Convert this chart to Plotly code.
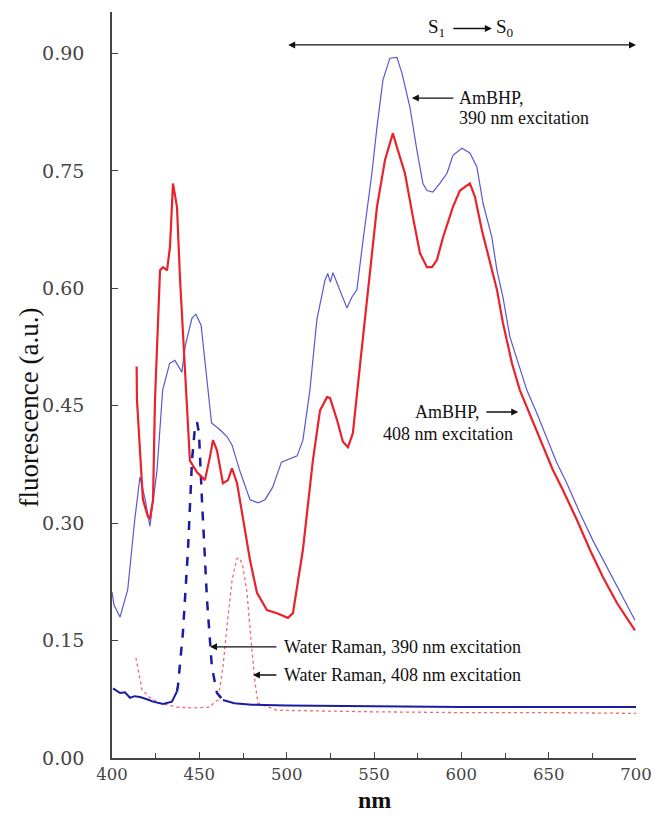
import plotly.graph_objects as go

# ---------------- data ----------------
amb390_nm = [400.0, 401.2, 404.6, 409.0, 413.0, 416.0, 419.0, 421.7, 425.8, 429.0, 433.0, 436.0, 440.0, 442.0,
             445.8, 448.0, 451.0, 453.8, 457.0, 462.0, 466.0, 468.7, 473.0, 479.0, 483.6, 487.6, 492.0, 497.0,
             502.0, 506.0, 509.3, 513.3, 517.3, 521.9, 523.5, 525.0, 526.5, 530.5, 534.5, 537.4, 540.2, 543.7,
             548.8, 551.7, 555.1, 559.1, 563.1, 566.0, 570.6, 574.6, 578.0, 580.3, 583.7, 587.7, 591.8, 595.2,
             600.3, 604.9, 608.9, 612.4, 617.5, 620.4, 623.8, 627.8, 632.4, 637.5, 643.3, 649.0, 654.7, 660.4,
             667.9, 675.3, 683.3, 690.8, 699.4]
amb390_val = [0.212, 0.195, 0.180, 0.215, 0.304, 0.359, 0.330, 0.296, 0.368, 0.470, 0.504, 0.508, 0.493, 0.527,
              0.562, 0.567, 0.553, 0.495, 0.428, 0.419, 0.410, 0.400, 0.368, 0.330, 0.326, 0.330, 0.346, 0.378,
              0.383, 0.386, 0.406, 0.470, 0.560, 0.610, 0.619, 0.608, 0.620, 0.598, 0.575, 0.589, 0.598, 0.661,
              0.747, 0.806, 0.866, 0.894, 0.895, 0.875, 0.831, 0.776, 0.734, 0.725, 0.723, 0.734, 0.747, 0.770,
              0.779, 0.773, 0.755, 0.709, 0.665, 0.623, 0.589, 0.538, 0.505, 0.470, 0.440, 0.408, 0.377, 0.351,
              0.313, 0.278, 0.244, 0.211, 0.176]

amb408_nm = [414.1, 414.3, 417.7, 420.6, 421.7, 423.5, 424.6, 426.0, 427.5, 429.2, 431.5, 433.2, 434.9, 437.2,
             438.9, 441.8, 443.5, 444.6, 448.7, 453.2, 456.1, 457.8, 460.1, 463.5, 466.4, 468.7, 471.6, 475.0,
             479.0, 483.0, 488.7, 494.4, 500.7, 503.6, 509.3, 515.0, 519.1, 523.1, 524.8, 528.8, 532.2, 535.1,
             537.9, 541.9, 546.0, 549.4, 551.7, 556.3, 560.8, 563.7, 567.7, 572.3, 576.3, 580.3, 583.2, 586.0,
             589.5, 595.2, 599.2, 604.9, 607.8, 611.8, 616.4, 620.4, 623.8, 629.0, 633.5, 638.1, 642.0, 646.7,
             652.4, 658.2, 666.2, 673.6, 681.1, 689.1, 699.4]
amb408_val = [0.500, 0.457, 0.330, 0.308, 0.306, 0.330, 0.457, 0.540, 0.623, 0.627, 0.623, 0.653, 0.734, 0.704,
              0.614, 0.495, 0.428, 0.380, 0.365, 0.355, 0.385, 0.406, 0.393, 0.351, 0.355, 0.370, 0.351, 0.308,
              0.253, 0.211, 0.189, 0.185, 0.179, 0.185, 0.266, 0.380, 0.444, 0.461, 0.460, 0.432, 0.404, 0.397,
              0.415, 0.500, 0.585, 0.649, 0.704, 0.764, 0.798, 0.776, 0.747, 0.691, 0.645, 0.627, 0.627, 0.636,
              0.665, 0.704, 0.725, 0.734, 0.717, 0.674, 0.632, 0.598, 0.556, 0.504, 0.470, 0.445, 0.425, 0.400,
              0.368, 0.342, 0.304, 0.266, 0.231, 0.198, 0.163]

raman390_nm = [400.6, 402.5, 404.6, 407.4, 410.3, 413.0, 416.0, 420.0, 423.5, 429.2, 434.3, 437.2,
               437.8, 440.6, 443.5, 445.8, 447.5, 448.7, 449.8, 451.5, 454.4, 457.2, 460.1, 463.5,
               470.0, 480.0, 500.0, 550.0, 600.0, 650.0, 700.0]
raman390_val = [0.089, 0.086, 0.083, 0.084, 0.077, 0.079, 0.078, 0.075, 0.072, 0.069, 0.072, 0.085,
                0.093, 0.160, 0.266, 0.380, 0.423, 0.429, 0.415, 0.330, 0.202, 0.116, 0.083, 0.074,
                0.070, 0.068, 0.067, 0.066, 0.065, 0.065, 0.065]

raman408_nm = [413.7, 417.2, 421.7, 427.5, 437.2, 446.4, 456.1, 459.0, 460.7, 463.5, 466.4, 468.7, 471.6,
               473.3, 475.0, 477.3, 480.1, 481.9, 483.6, 494.4, 550.0, 600.0, 650.0, 700.0]
raman408_val = [0.128, 0.087, 0.077, 0.070, 0.065, 0.064, 0.065, 0.072, 0.074, 0.116, 0.180, 0.227, 0.255,
                0.255, 0.244, 0.211, 0.138, 0.096, 0.070, 0.061, 0.059, 0.058, 0.058, 0.057]

x_ticks = [400, 450, 500, 550, 600, 650, 700]
y_ticks = [0.00, 0.15, 0.30, 0.45, 0.60, 0.75, 0.90]

# ---------------- figure ----------------
BLUE = "#5858d4"
RED = "#e8232b"
DBLUE = "#1c1ca0"
LRED = "#f06a6a"
SERIF = "Liberation Serif"

fig = go.Figure()

# dark blue Raman 390: solid baseline, dashed peak
base_x, base_y, peak_x, peak_y = [], [], [], []
for xv, yv in zip(raman390_nm, raman390_val):
    if 437.2 <= xv <= 463.5:
        peak_x.append(xv); peak_y.append(yv)
    if xv <= 437.2 or xv >= 463.5:
        base_x.append(xv); base_y.append(yv)
    if xv == 437.2:
        base_x.append(None); base_y.append(None)

fig.add_trace(go.Scatter(x=raman408_nm, y=raman408_val, mode="lines",
                         line=dict(color=LRED, width=1.3, dash="dot"), hoverinfo="skip"))
fig.add_trace(go.Scatter(x=base_x, y=base_y, mode="lines", connectgaps=False,
                         line=dict(color=DBLUE, width=2), hoverinfo="skip"))
fig.add_trace(go.Scatter(x=peak_x, y=peak_y, mode="lines",
                         line=dict(color=DBLUE, width=2.5, dash="dash"), hoverinfo="skip"))
fig.add_trace(go.Scatter(x=amb390_nm, y=amb390_val, mode="lines",
                         line=dict(color=BLUE, width=1.2), hoverinfo="skip"))
fig.add_trace(go.Scatter(x=amb408_nm, y=amb408_val, mode="lines",
                         line=dict(color=RED, width=2.2), hoverinfo="skip"))

ann = []


def arrow(x, y, ax, ay, side="end", head=2):
    ann.append(dict(x=x, y=y, ax=ax, ay=ay, xref="x", yref="y", axref="x", ayref="y",
                    text="", showarrow=True, arrowhead=head, startarrowhead=head, arrowside=side,
                    arrowsize=1, startarrowsize=1, arrowwidth=1.4, arrowcolor="#111", standoff=0,
                    startstandoff=0))


def label(x, y, text, anchor="left", size=18):
    ann.append(dict(x=x, y=y, xref="x", yref="y", text=text, showarrow=False,
                    xanchor=anchor, yanchor="middle", font=dict(family=SERIF, size=size, color="#111")))


# S1 -> S0 range arrow
arrow(700, 0.911, 500, 0.911, side="end+start")
label(585.5, 0.932, "S<sub>1</sub>", anchor="center", size=19)
label(625.0, 0.932, "S<sub>0</sub>", anchor="center", size=19)
arrow(617.5, 0.932, 594.6, 0.932)

# AmBHP 390
arrow(571.7, 0.843, 596.3, 0.843)
label(597.5, 0.843, "AmBHP,")
label(597.5, 0.818, "390 nm excitation")

# AmBHP 408
arrow(632.6, 0.442, 613.5, 0.442)
label(611.8, 0.442, "AmBHP,", anchor="right")
label(630.7, 0.414, "408 nm excitation", anchor="right")

# Water Raman
arrow(456.1, 0.142, 495.0, 0.142)
label(497.3, 0.142, "Water Raman, 390 nm excitation")
arrow(480.7, 0.106, 495.0, 0.106)
label(497.3, 0.106, "Water Raman, 408 nm excitation")

# axis titles
ann.append(dict(x=-0.158, y=0.47, xref="paper", yref="paper", text="fluorescence (a.u.)",
                textangle=-90, showarrow=False, xanchor="center", yanchor="middle",
                font=dict(family=SERIF, size=27, color="#111")))
ann.append(dict(x=0.5, y=-0.056, xref="paper", yref="paper", text="<b>nm</b>",
                showarrow=False, xanchor="center", yanchor="middle",
                font=dict(family=SERIF, size=24, color="#111")))

fig.update_layout(
    width=652, height=820,
    margin=dict(l=112, r=16, t=12, b=62),
    paper_bgcolor="white", plot_bgcolor="white",
    showlegend=False,
    annotations=ann,
)
fig.update_xaxes(range=[400, 700], tickvals=x_ticks, ticktext=[str(v) for v in x_ticks],
                 automargin=False, ticklabeloverflow="allow",
                 ticks="inside", ticklen=6, tickwidth=1.3, tickcolor="#444",
                 minor=dict(dtick=25, tick0=400, ticks="inside", ticklen=5, tickwidth=1.2, tickcolor="#444"),
                 showline=True, linecolor="#444", linewidth=1.6, showgrid=False, zeroline=False,
                 tickfont=dict(family="DejaVu Serif", size=16.5, color="#444"))
fig.update_yaxes(range=[0, 0.953], tickvals=y_ticks, ticktext=[f"{v:.2f}" for v in y_ticks],
                 automargin=False,
                 ticks="inside", ticklen=6, tickwidth=1.3, tickcolor="#444",
                 showline=True, linecolor="#444", linewidth=1.6, showgrid=False, zeroline=False,
                 ticklabelstandoff=22,
                 tickfont=dict(family="DejaVu Serif", size=19, color="#444"))

fig.write_html("out.html", config={"displayModeBar": False},
               post_script="document.body.style.margin='0px';document.body.style.overflow='hidden';")
